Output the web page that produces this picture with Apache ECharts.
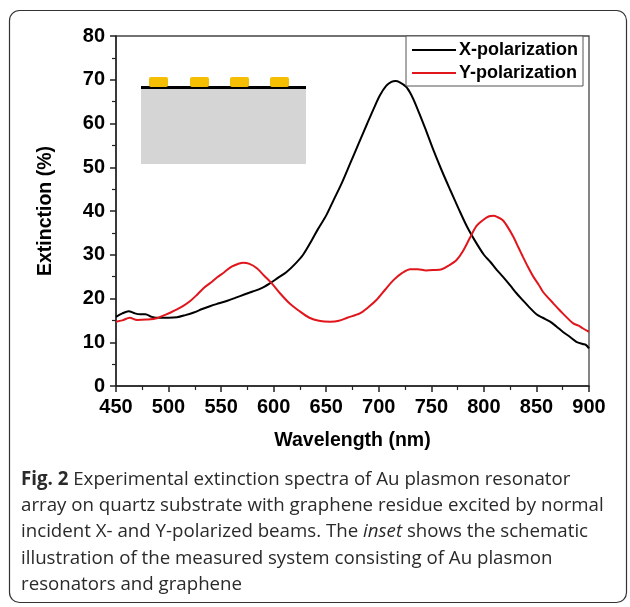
<!DOCTYPE html>
<html>
<head>
<meta charset="utf-8">
<script src="https://cdn.jsdelivr.net/npm/echarts@6/dist/echarts.min.js"></script>
<style>
    html, body { margin: 0; padding: 0; background: #fff; }
    #chart { width: 630px; height: 607px; }
</style>
</head>
<body>
<div id="chart"></div>
<script>
    // X-polarization spectrum (wavelength nm / extinction %)
    var xWave = [450, 456, 462, 468, 473, 478, 484, 492, 500, 508, 516, 524, 532, 540, 548, 556, 564, 572, 580, 588,
        596, 604, 612, 620, 628, 636, 642, 650, 657, 665, 673, 681, 689, 695, 701, 707, 712, 716, 720, 726,
        731, 736, 744, 752, 760, 768, 776, 784, 792, 800, 806, 812, 818, 825, 831, 837, 844, 850, 856, 863,
        869, 875, 882, 888, 894, 897, 900];
    var xExt = [15.8, 16.6, 17.1, 16.6, 16.4, 16.4, 15.8, 15.6, 15.6, 15.7, 16.2, 16.8, 17.6, 18.3, 18.9, 19.5, 20.2, 20.9, 21.6, 22.3,
        23.4, 24.7, 26.0, 27.8, 30.0, 33.2, 35.8, 39.0, 42.5, 46.5, 51.0, 55.5, 60.0, 63.3, 66.4, 68.6, 69.5, 69.7, 69.4, 68.4,
        66.5, 63.8, 59.0, 53.9, 49.2, 44.8, 40.5, 36.4, 33.0, 30.0, 28.4, 26.6, 25.0, 23.0, 21.2, 19.6, 17.8, 16.4, 15.6, 14.7,
        13.6, 12.4, 11.2, 10.1, 9.6, 9.4, 8.6];

    // Y-polarization spectrum
    var yWave = [450, 456, 463, 470, 479, 489, 496, 502, 508, 514, 520, 526, 533, 540, 546, 553, 560, 566, 571, 577,
        584, 591, 598, 606, 615, 624, 634, 643, 654, 662, 670, 682, 690, 698, 706, 714, 722, 730, 737, 745,
        752, 760, 767, 774, 780, 787, 793, 799, 805, 809, 813, 818, 823, 828, 833, 837, 842, 847, 852, 856,
        861, 866, 871, 875, 880, 885, 890, 894, 900];
    var yExt = [14.7, 15.0, 15.6, 15.1, 15.2, 15.5, 16.2, 16.8, 17.5, 18.3, 19.3, 20.6, 22.3, 23.6, 24.8, 26.0, 27.3, 27.9, 28.2, 27.9,
        26.9, 25.2, 23.5, 21.2, 18.9, 17.2, 15.6, 14.9, 14.7, 14.9, 15.6, 16.6, 18.0, 19.7, 22.0, 24.2, 25.8, 26.7, 26.7, 26.4,
        26.5, 26.7, 27.6, 28.8, 30.8, 34.0, 36.6, 37.9, 38.8, 38.9, 38.6, 37.9, 36.2, 34.1, 31.6, 29.6, 27.2, 25.0, 23.2, 21.6,
        20.2, 18.9, 17.6, 16.6, 15.4, 14.3, 13.8, 13.2, 12.4];

    var seriesNames = ['X-polarization', 'Y-polarization'];
    var captionLines = [
        '{b|Fig. 2} Experimental extinction spectra of Au plasmon resonator',
        'array on quartz substrate with graphene residue excited by normal',
        'incident X- and Y-polarized beams. The {i|inset} shows the schematic',
        'illustration of the measured system consisting of Au plasmon',
        'resonators and graphene'
    ];

    function pairs(xs, ys) {
        var out = [];
        for (var i = 0; i < xs.length; i++) out.push([xs[i], ys[i]]);
        return out;
    }

    var font = 'Liberation Sans, Arial, sans-serif';
    var capSize = 18.7;
    var chart = echarts.init(document.getElementById('chart'));

    var graphic = [
        // outer frame
        { type: 'rect', shape: { x: 9.5, y: 10.5, width: 617, height: 592, r: 10 },
          style: { fill: 'none', stroke: '#333', lineWidth: 1.2 }, z: 0 },
        // inset: substrate, graphene, Au blocks
        { type: 'rect', shape: { x: 141, y: 87, width: 165, height: 77 }, style: { fill: '#d5d5d5' }, z: 10 },
        { type: 'rect', shape: { x: 141, y: 86, width: 165, height: 3 }, style: { fill: '#000' }, z: 11 }
    ];
    [149, 190, 230, 270].forEach(function (bx) {
        graphic.push({ type: 'rect', shape: { x: bx, y: 77, width: 19, height: 10, r: 2 },
            style: { fill: '#f6be00' }, z: 12 });
    });
    captionLines.forEach(function (line, k) {
        graphic.push({
            type: 'text', left: 21, top: 470 + k * 26.3, z: 10,
            style: {
                text: line, fill: '#2a2a2a',
                font: capSize + 'px "Open Sans", sans-serif',
                rich: {
                    b: { fontWeight: 'bold', fontSize: capSize, fontFamily: 'Open Sans', fill: '#2a2a2a' },
                    i: { fontStyle: 'italic', fontSize: capSize, fontFamily: 'Open Sans', fill: '#2a2a2a' }
                }
            }
        });
    });

    var option = {
        animation: false,
        backgroundColor: '#fff',
        grid: {
            left: 116, right: 41, top: 36, bottom: 221,
            show: true, borderColor: '#444', borderWidth: 1.3
        },
        legend: {
            data: seriesNames,
            orient: 'vertical',
            left: 406, top: 36,
            padding: [5, 5, 4, 6],
            itemGap: 5,
            itemWidth: 44, itemHeight: 2,
            icon: 'rect',
            backgroundColor: '#fff',
            borderColor: '#555', borderWidth: 1,
            textStyle: { fontFamily: font, fontWeight: 'bold', fontSize: 18, color: '#000', padding: [0, 0, 0, -2] }
        },
        xAxis: {
            type: 'value', min: 450, max: 900, interval: 50,
            name: 'Wavelength (nm)', nameLocation: 'middle', nameGap: 45,
            nameTextStyle: { fontFamily: font, fontWeight: 'bold', fontSize: 19.5, color: '#000' },
            axisLine: { lineStyle: { color: '#222', width: 1.5 } },
            axisTick: { length: 6, lineStyle: { color: '#222', width: 1.5 } },
            minorTick: { show: true, splitNumber: 2, length: 4, lineStyle: { color: '#222', width: 1.2 } },
            axisLabel: { fontFamily: font, fontWeight: 'bold', fontSize: 20, color: '#000', margin: 11 },
            splitLine: { show: false }
        },
        yAxis: {
            type: 'value', min: 0, max: 80, interval: 10,
            name: 'Extinction (%)', nameLocation: 'middle', nameGap: 60,
            nameTextStyle: { fontFamily: font, fontWeight: 'bold', fontSize: 19.5, color: '#000' },
            axisLine: { show: true, lineStyle: { color: '#222', width: 1.5 } },
            axisTick: { show: true, length: 6, lineStyle: { color: '#222', width: 1.5 } },
            minorTick: { show: true, splitNumber: 2, length: 4, lineStyle: { color: '#222', width: 1.2 } },
            axisLabel: { fontFamily: font, fontWeight: 'bold', fontSize: 20, color: '#000', margin: 11 },
            splitLine: { show: false }
        },
        series: [
            {
                name: seriesNames[0], type: 'line', data: pairs(xWave, xExt),
                smooth: 0.3, showSymbol: false, color: '#000',
                lineStyle: { width: 2, color: '#000' }
            },
            {
                name: seriesNames[1], type: 'line', data: pairs(yWave, yExt),
                smooth: 0.3, showSymbol: false, color: '#e0161c',
                lineStyle: { width: 2, color: '#e0161c' }
            }
        ],
        graphic: graphic
    };
    chart.setOption(option);
</script>
</body>
</html>
